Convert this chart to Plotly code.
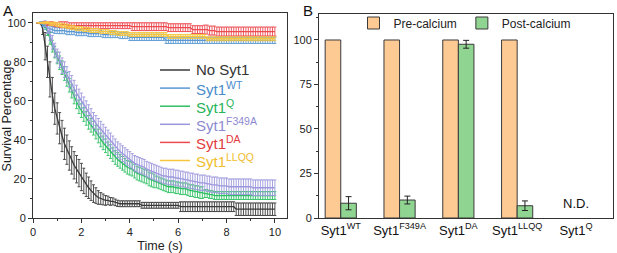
import numpy as np
import plotly.graph_objects as go

# ---------------- Panel A data ----------------
time_s = np.round(np.arange(0.2, 10.001, 0.1), 1)

no_syt1 = [100, 100, 97, 88, 80, 71, 63, 56, 51,
           46, 42, 38, 35, 32, 29.5, 27, 25, 23, 21,
           19, 17, 15.5, 14, 12.5, 11.5, 10.5, 10, 9.5, 9,
           9, 8.5, 8.5, 8, 7.5, 7.3, 7.3, 7.3, 7.3, 7.3,
           7.3, 7.3, 7.3, 7.3, 6.5, 6.5, 6.5, 6.5, 6.5, 6.5,
           6.5, 6.5, 6.5, 6.5, 6.5, 6.5, 6.5, 6.5, 6.5, 6.5,
           5.8, 5.8, 5.8, 5.8, 5.8, 5.8, 5.8, 5.8, 5.8, 5.8,
           5.8, 5.8, 5.8, 5.8, 5.8, 5.8, 5.8, 5.8, 5.8, 5.8,
           5.8, 5.8, 5.8, 4.5, 4.5, 4.5, 4.5, 4.5, 4.5, 4.5,
           4.5, 4.5, 4.5, 4.5, 4.5, 4.5, 4.5, 4.5, 4.5, 4.5]
no_syt1_err = [0, 0, 3, 7, 8, 9, 9, 8, 8,
               8, 8, 8, 7.5, 7.5, 7, 7, 7, 7, 7,
               6.5, 6, 5.5, 5, 4.5, 4, 3.5, 3, 2.8, 2.5,
               2.2, 2, 1.8, 1.7, 1.6, 1.5, 1.5, 1.5, 1.5, 1.5,
               1.5, 1.5, 1.5, 1.5, 1.5, 1.5, 1.5, 1.5, 1.5, 1.5,
               1.5, 1.5, 1.5, 1.5, 1.5, 1.5, 1.5, 1.5, 1.5, 1.5,
               2.5, 2.5, 2.5, 2.5, 2.5, 2.5, 2.5, 2.5, 2.5, 2.5,
               2.5, 2.5, 2.5, 2.5, 2.5, 2.5, 2.5, 2.5, 2.5, 2.5,
               2.5, 2.5, 2.5, 3.2, 3.2, 3.2, 3.2, 3.2, 3.2, 3.2,
               3.2, 3.2, 3.2, 3.2, 3.2, 3.2, 3.2, 3.2, 3.2, 3.2]

syt1_wt = [100, 100, 99, 98, 97.5, 97, 96.5, 96, 96,
           96, 96, 96, 95.5, 95.5, 95.5, 95.5, 95, 95, 95,
           95, 95, 94.5, 94.5, 94.5, 94.5, 94.5, 94.5, 94, 94,
           94, 94, 94, 94, 94, 93.5, 93.5, 93.5, 93.5, 92.5,
           92.5, 92.5, 92.5, 92.5, 92.5, 92.5, 92.5, 92.5, 92.5, 92.5,
           92.5, 92.5, 92.5, 92.5, 91, 91, 91, 91, 91, 91,
           91, 91, 91, 91, 91, 91, 91, 91, 91, 91,
           91, 91, 91, 91, 91, 91, 91, 91, 91, 91,
           91, 91, 91, 91, 91, 91, 91, 91, 91, 91,
           91, 91, 91, 91, 91, 91, 91, 91, 91, 91]
syt1_wt_err = [0, 0.5, 1, 1.5, 1.5, 1.5, 1.5, 1.5, 1.5] + [1.6] * 90

syt1_q = [100, 100, 100, 99, 96, 92, 88, 85, 82,
          79.5, 77, 74, 71, 68, 65, 62, 59.5, 57, 55,
          53, 51, 49, 47.5, 46, 44, 42, 40, 38.5, 37,
          35.5, 34, 32.5, 31, 30, 29, 28, 27, 26, 25.5,
          25, 24, 23, 22.5, 22, 21.5, 21, 20, 19.5, 19,
          18.5, 18, 17.5, 17, 16.5, 16, 16, 16, 15.5, 15.5,
          15, 15, 15, 14.5, 14, 14, 13.5, 13.5, 13, 13,
          12.5, 12.5, 12, 12, 11.5, 11.5, 11.5, 11.5, 11.5, 11.5,
          11.5, 11.5, 11.5, 11.5, 11.5, 11.5, 11.5, 11.5, 11.5, 11.5,
          11.5, 11.5, 11.5, 11.5, 11.5, 11.5, 11.5, 11.5, 11.5, 11.5]
syt1_q_err = [0, 0, 0.5, 1.5, 2.5, 3, 3, 3, 3] + [3.5] * 40 + [3] * 20 + [2] * 30

syt1_f349a = [100, 100, 100, 99.5, 97, 94, 90, 86, 83,
              81, 78, 76, 73.5, 71, 69, 66.5, 64, 62, 60,
              58, 56, 54, 52, 50, 48.5, 47, 45.5, 44, 42.5,
              41, 39.5, 38, 36.5, 35, 34, 33, 32, 31, 30,
              29, 28, 27.5, 27, 26.5, 26, 25, 24.5, 24, 23.5,
              23, 22.5, 22, 21.5, 21.5, 21, 21, 21, 20.5, 20.5,
              20, 20, 19.5, 19.5, 19, 19, 18.5, 18.5, 18, 18,
              18, 17.5, 17.5, 17, 17, 17, 16.5, 16.5, 16.5, 16.5,
              16, 16, 16, 16, 16, 16, 16, 16, 16, 16,
              15.5, 15.5, 15.5, 15.5, 15.5, 15.5, 15.5, 15.5, 15.5, 15.5]
syt1_f349a_err = [0, 0, 0.5, 1.5, 2.5, 3, 3.5, 3.5, 3.5] + [4] * 90

syt1_da = [100, 100, 100, 100, 99.5, 99.5, 99.5, 99, 99,
           99, 99, 99, 99, 98.5, 98.5, 98.5, 98.5, 98.5, 98.5,
           98.5, 98.5, 98.5, 98.5, 98.5, 98.5, 98.5, 98.5, 98.5, 98.5,
           98.5, 98.5, 98.5, 98.5, 98.5, 98.5, 98.5, 98.5, 98.5, 98.5,
           98, 98, 98, 98, 98, 98, 98, 98, 98, 98,
           98, 98, 98, 98, 98, 97.5, 97.5, 97.5, 97.5, 97.5,
           97.5, 97.5, 97.5, 97.5, 97.5, 96.5, 96.5, 96.5, 96.5, 96.5,
           96.5, 96.5, 96, 96, 96, 95.5, 95.5, 95.5, 95.5, 95.5,
           95.5, 95.5, 95.5, 95.5, 95.5, 95.5, 95.5, 95.5, 95.5, 95.5,
           95.5, 95.5, 95.5, 95.5, 95.5, 95.5, 95.5, 95.5, 95.5, 95.5]
syt1_da_err = [0, 0, 0.3, 0.5, 0.8, 1, 1, 1, 1] + [1.5] * 30 + [2] * 30 + [2.3] * 30

syt1_llqq = [100, 100, 100, 100, 100, 99.5, 99.5, 99.5, 99,
             99, 98.5, 98.5, 98, 98, 97.5, 97.5, 97, 97, 97,
             96.5, 96.5, 96.5, 96, 96, 96, 96, 95.5, 95.5, 95.5,
             95.5, 95, 95, 95, 94.5, 94.5, 94.5, 94.5, 94.5, 94,
             94, 94, 94, 94, 94, 94, 94, 94, 94, 94,
             94, 94, 94, 94, 94, 93, 93, 93, 93, 93,
             93, 93, 93, 93, 93, 93, 93, 93, 93, 93,
             93, 91.8, 91.8, 91.8, 91.8, 91.8, 91.8, 91.8, 91.8, 91.8,
             91.8, 91.8, 91.8, 91.8, 91.8, 91.8, 91.8, 91.8, 91.8, 91.8,
             91.8, 91.8, 91.8, 91.8, 91.8, 91.8, 91.8, 91.8, 91.8, 91.8]
syt1_llqq_err = [0, 0, 0.3, 0.5, 0.5, 0.8, 0.8, 0.8, 1] + [1] * 90

series_names = ["No Syt1", "Syt1<sup>WT</sup>", "Syt1<sup>Q</sup>",
                "Syt1<sup>F349A</sup>", "Syt1<sup>DA</sup>", "Syt1<sup>LLQQ</sup>"]
series_values = [no_syt1, syt1_wt, syt1_q, syt1_f349a, syt1_da, syt1_llqq]
series_errors = [no_syt1_err, syt1_wt_err, syt1_q_err, syt1_f349a_err, syt1_da_err, syt1_llqq_err]
line_colors = ["#3a3a3a", "#5b98d2", "#2fbf63", "#9c97dc", "#ec4a4f", "#f5c63e"]
text_colors = ["#333333", "#4a8ccb", "#27b35a", "#8e8ad2", "#e23b42", "#f0bd2c"]

# ---------------- Panel B data ----------------
mutants = ["Syt1<sup>WT</sup>", "Syt1<sup>F349A</sup>", "Syt1<sup>DA</sup>",
           "Syt1<sup>LLQQ</sup>", "Syt1<sup>Q</sup>"]
pre_calcium = [100, 100, 100, 100, None]
post_calcium = [8.3, 10.1, 97.6, 6.9, None]
post_calcium_err = [3.7, 2.2, 2.2, 2.7, None]

FONT = "Liberation Sans, Arial, sans-serif"
AXC = "#333333"
W, H = 617, 253


def px_x(p):
    return p / W


def px_y(p):
    return (H - p) / H


fig = go.Figure()

for name, vals, errs, lc in zip(series_names, series_values, series_errors, line_colors):
    fig.add_trace(go.Scatter(
        x=time_s, y=vals, mode="lines", name=name, showlegend=False,
        line=dict(color=lc, width=1.3),
        error_y=dict(type="data", array=errs, color=lc, thickness=0.9, width=1.5),
        xaxis="x", yaxis="y",
    ))

fig.add_trace(go.Bar(
    x=mutants, y=pre_calcium, name="Pre-calcium",
    marker=dict(color="#fdca94", line=dict(color="#3a3a3a", width=1)),
    xaxis="x2", yaxis="y2", legend="legend2",
))
fig.add_trace(go.Bar(
    x=mutants, y=post_calcium, name="Post-calcium",
    marker=dict(color="#90d492", line=dict(color="#3a3a3a", width=1)),
    error_y=dict(type="data", array=post_calcium_err, color="#222222", thickness=1, width=3),
    xaxis="x2", yaxis="y2", legend="legend2",
))

# Panel A legend (drawn as line samples + coloured labels)
shapes = []
annotations = []
for i, (name, lc, tc) in enumerate(zip(series_names, line_colors, text_colors)):
    yy = px_y(70 + 18.1 * i)
    shapes.append(dict(type="line", xref="paper", yref="paper",
                       x0=px_x(160), x1=px_x(190), y0=yy, y1=yy,
                       line=dict(color=lc, width=1.5)))
    annotations.append(dict(text=name, xref="paper", yref="paper",
                            x=px_x(194), y=yy, xanchor="left", yanchor="middle",
                            showarrow=False,
                            font=dict(size=15, color=tc, family=FONT)))

annotations += [
    dict(text="A", x=px_x(1), y=px_y(0), xref="paper", yref="paper",
         xanchor="left", yanchor="top", showarrow=False,
         font=dict(size=15, color="#111111", family=FONT)),
    dict(text="B", x=px_x(301), y=px_y(0), xref="paper", yref="paper",
         xanchor="left", yanchor="top", showarrow=False,
         font=dict(size=15, color="#111111", family=FONT)),
    dict(text="N.D.", x=mutants[4], y=3, xref="x2", yref="y2",
         yanchor="bottom", showarrow=False,
         font=dict(size=13, color="#111111", family=FONT)),
]

axis_common = dict(showline=True, linecolor=AXC, linewidth=1, mirror=True,
                   showgrid=False, zeroline=False, ticks="outside", ticklen=4,
                   tickcolor=AXC, automargin=False,
                   tickfont=dict(size=11, color="#222222", family=FONT))

fig.update_layout(
    width=W, height=H,
    margin=dict(l=0, r=0, t=0, b=0, autoexpand=False),
    paper_bgcolor="white", plot_bgcolor="white",
    font=dict(family=FONT, color="#222222"),
    barmode="group", bargap=0.47, bargroupgap=0,
    xaxis=dict(domain=[px_x(33), px_x(287)], range=[0, 10.5],
               tickvals=[0, 2, 4, 6, 8, 10],
               minor=dict(dtick=1, tick0=0, ticks="outside", ticklen=2, tickcolor=AXC),
               title=dict(text="Time (s)", font=dict(size=12.5), standoff=4),
               anchor="y", **axis_common),
    yaxis=dict(domain=[px_y(218), px_y(13)], range=[0, 105],
               tickvals=[0, 20, 40, 60, 80, 100],
               minor=dict(dtick=10, tick0=0, ticks="outside", ticklen=2, tickcolor=AXC),
               title=dict(text="Survival Percentage", font=dict(size=12.5), standoff=1),
               anchor="x", **axis_common),
    xaxis2=dict(domain=[px_x(319), px_x(613)], range=[-0.37, 4.63],
                type="category", anchor="y2", automargin=False,
                showline=True, linecolor=AXC, linewidth=1, mirror=True,
                showgrid=False, zeroline=False, ticks="",
                tickfont=dict(size=13, color="#111111", family=FONT)),
    yaxis2=dict(domain=[px_y(218), px_y(14)], range=[0, 114.6],
                tickvals=[0, 25, 50, 75, 100],
                minor=dict(dtick=12.5, tick0=0, ticks="outside", ticklen=2, tickcolor=AXC),
                anchor="x2", **axis_common),
    legend2=dict(orientation="h", x=px_x(465), y=px_y(23), xanchor="center",
                 yanchor="middle", bgcolor="rgba(0,0,0,0)",
                 font=dict(size=12, family=FONT, color="#222222")),
    shapes=shapes,
    annotations=annotations,
)

fig.write_html("out.html",
               config={"displayModeBar": False},
               post_script="document.body.style.margin='0';document.body.style.overflow='hidden';")
